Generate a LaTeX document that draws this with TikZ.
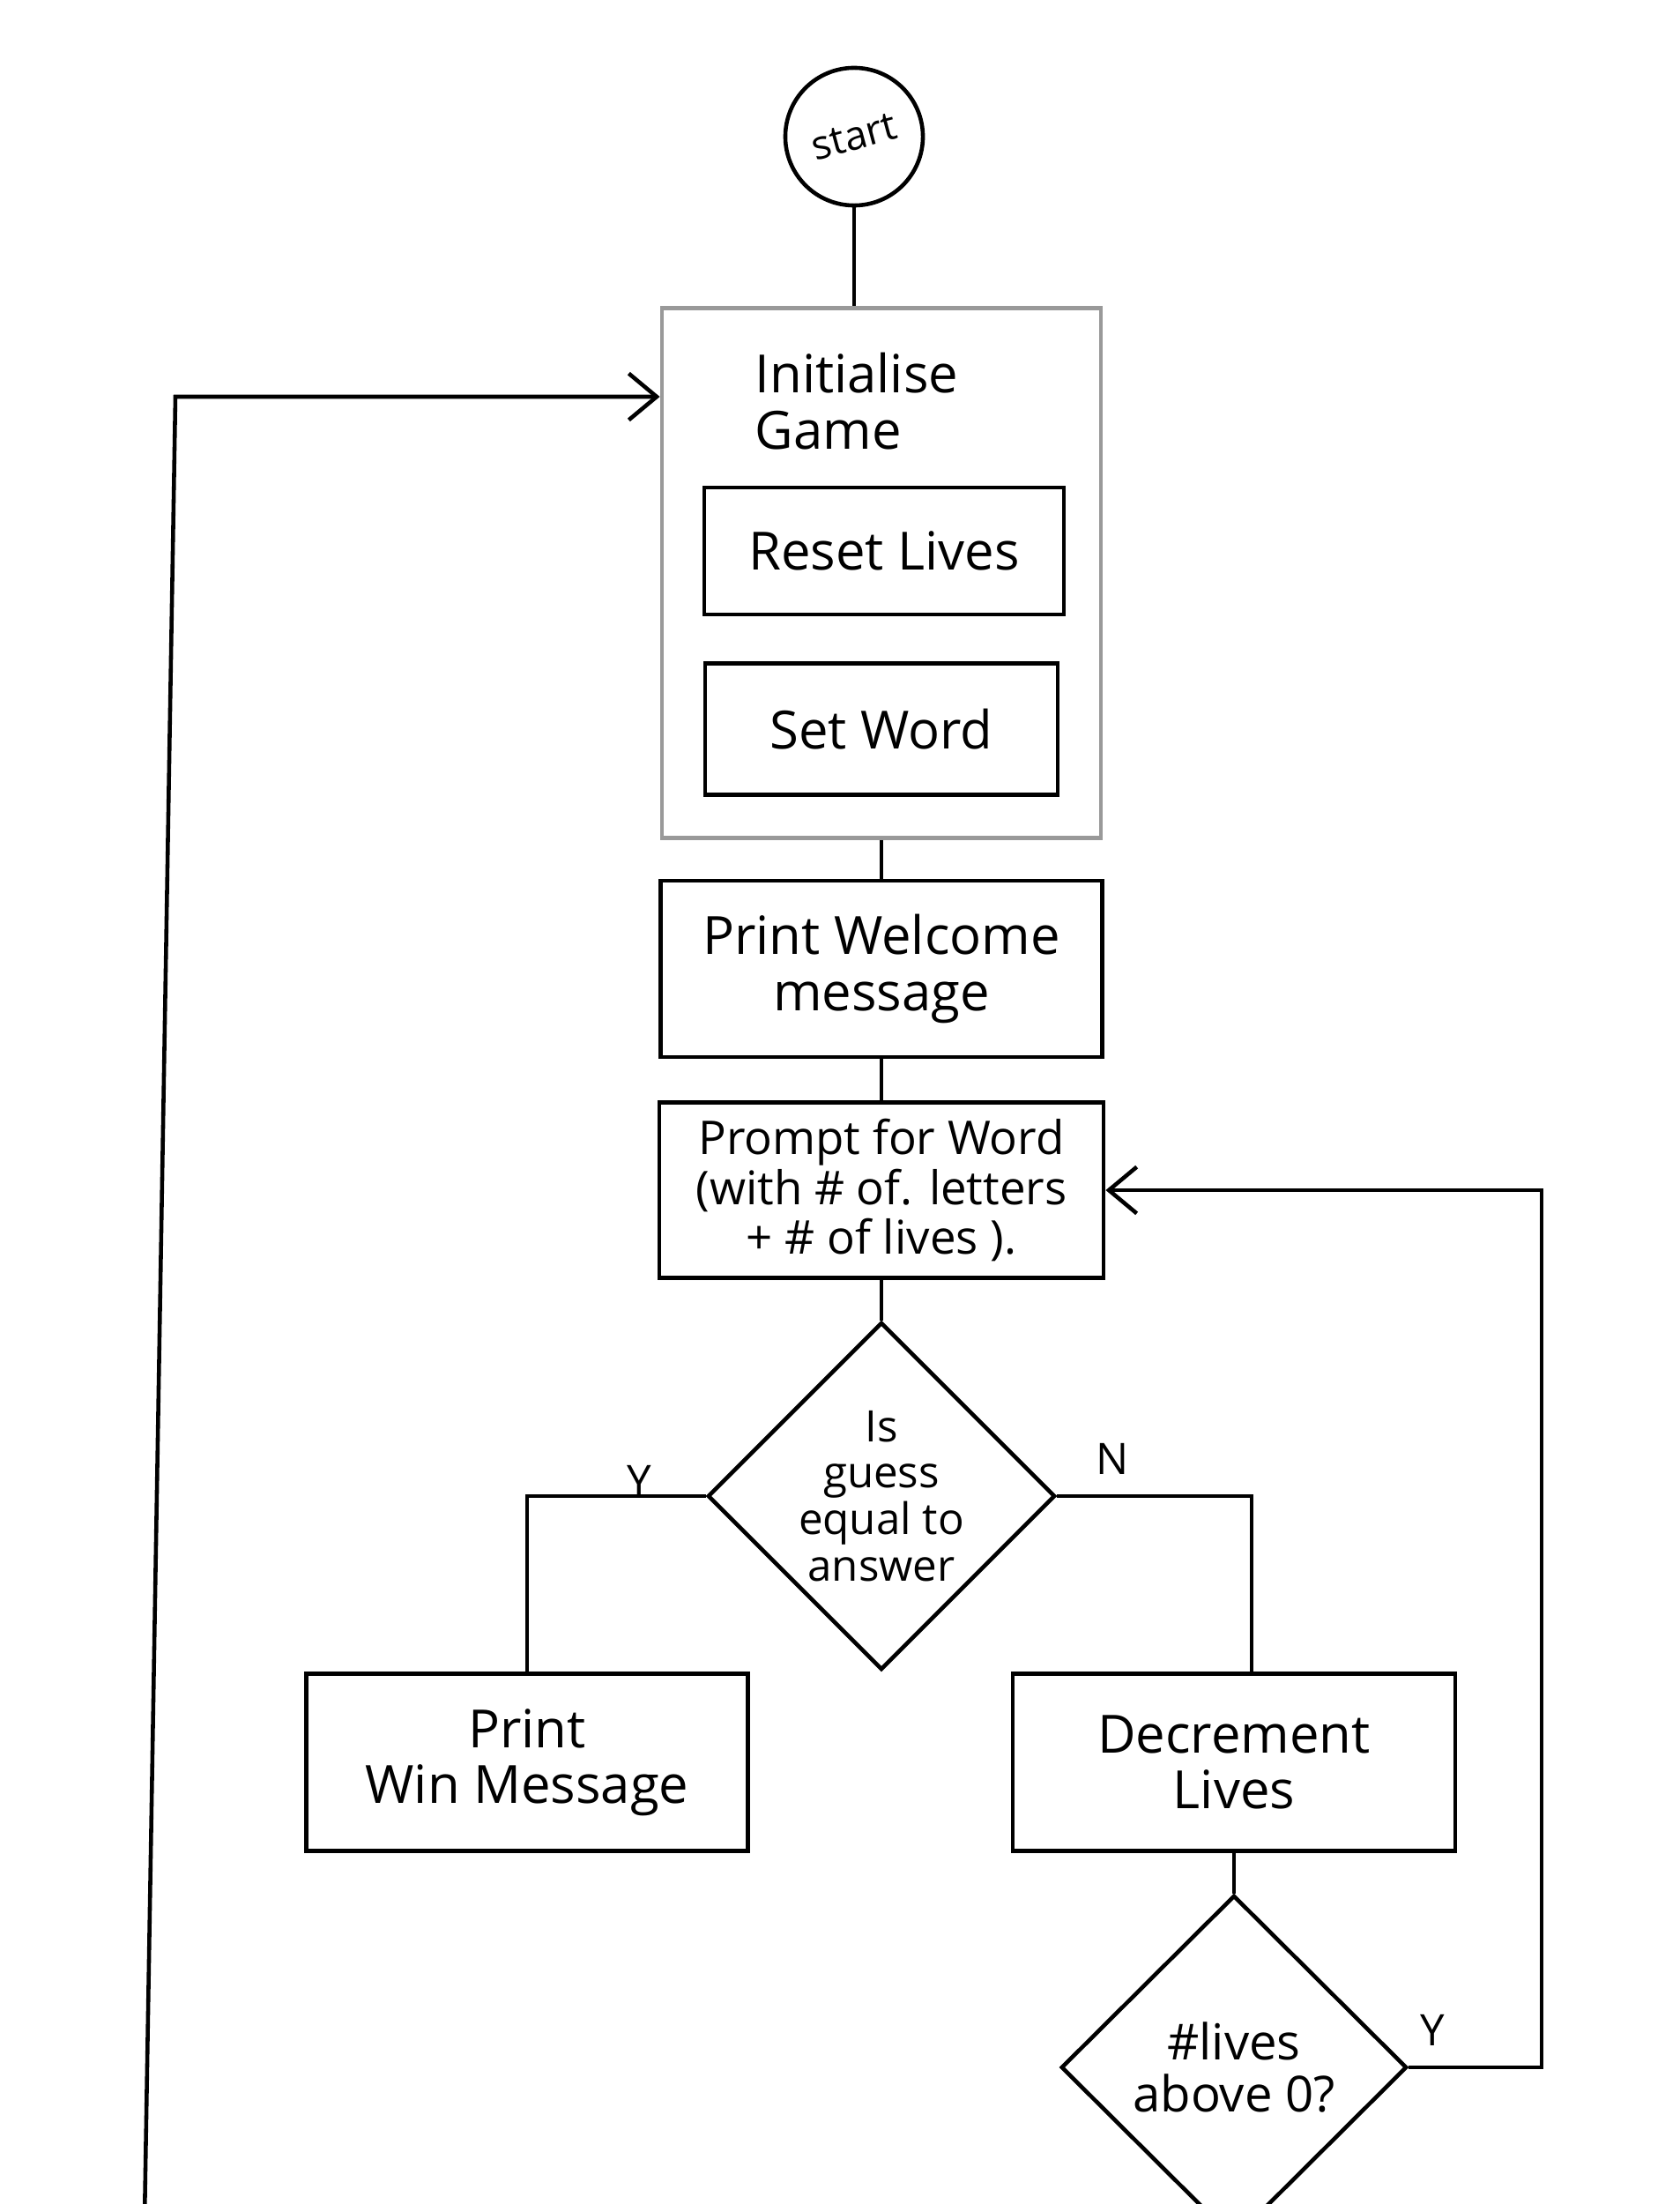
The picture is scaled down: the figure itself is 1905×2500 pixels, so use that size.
\documentclass[tikz,border=0pt]{standalone}
\usepackage{fontspec}
\setmainfont{Open Sans}
\usepackage{graphicx}
\usetikzlibrary{shapes.geometric,arrows.meta}

\begin{document}
\begin{tikzpicture}
  [x=0.01cm,y=-0.01cm,line width=1.3pt,
   every node/.style={font=\fontsize{17}{18}\selectfont,align=center},
   box/.style={draw,rectangle,inner sep=0pt},
   decision/.style={draw,diamond,inner sep=0pt,aspect=1},
   tag/.style={font=\fontsize{14}{15}\selectfont},
   flow/.style={-{Straight Barb[length=9pt,width=15pt]}}] % coordinates are pixels of the sketch, y going down

  \clip (0,0) rectangle (1905,2500);
  \fill[white] (0,0) rectangle (1905,2500);

  \node[circle,draw,minimum size=1.56cm,inner sep=0pt] (start) at (969,155) {\rotatebox{15}{\fontsize{13}{14}\selectfont start}};

  \node[box,draw=black!40,minimum width=4.98cm,minimum height=6.01cm] (init) at (1000,650) {};
  \node[align=left] (initlabel) at (972,455) {Initialise\\Game};
  \node[box,minimum width=4.08cm,minimum height=1.44cm] (reset) at (1003,625) {Reset Lives};
  \node[box,minimum width=4.00cm,minimum height=1.49cm] (setword) at (1000,827) {Set Word};

  \node[box,minimum width=5.01cm,minimum height=2.00cm] (welcome) at (1000,1099) {Print Welcome\\message};
  \node[box,minimum width=5.04cm,minimum height=1.99cm,font=\fontsize{15}{16}\selectfont] (prompt) at (1000,1350) {Prompt for Word\\(with \# of. letters\\+ \# of lives ).};

  \node[decision,minimum width=3.94cm,minimum height=3.94cm,font=\fontsize{14}{15}\selectfont] (guess) at (1000,1697) {Is\\guess\\equal to\\answer};

  \node[box,minimum width=5.01cm,minimum height=2.01cm] (win) at (598,1999) {Print\\Win Message};
  \node[box,minimum width=5.02cm,minimum height=2.01cm] (dec) at (1400,1999) {Decrement\\Lives};

  \node[decision,minimum width=3.92cm,minimum height=3.90cm,font=\fontsize{16}{17}\selectfont] (lives) at (1400,2345) {\#lives\\above 0?};

  \node[tag] (yes) at (725,1680) {Y};
  \node[tag] (no) at (1262,1655) {N};
  \node[tag] (again) at (1625,2303) {Y};

  \draw (start.south) -- (start.south |- init.north);
  \draw (init.south) -- (welcome.north);
  \draw (welcome.south) -- (prompt.north);
  \draw (prompt.south) -- (guess.north);
  \draw (guess.west) -| (win.north); % yes
  \draw (guess.east) -| ([xshift=0.2cm]dec.north); % no
  \draw (dec.south) -- (lives.north);

  % lives left: back to the prompt
  \coordinate (retx) at (1749,2330);
  \draw[flow] (lives.east) -- (lives.east -| retx) |- (prompt.east);

  % restart loop from below
  \coordinate (restart) at (164,2520);
  \coordinate (corner) at (199,450);
  \draw[flow] (restart) -- (corner) -- (corner -| init.west);

\end{tikzpicture}
\end{document}
